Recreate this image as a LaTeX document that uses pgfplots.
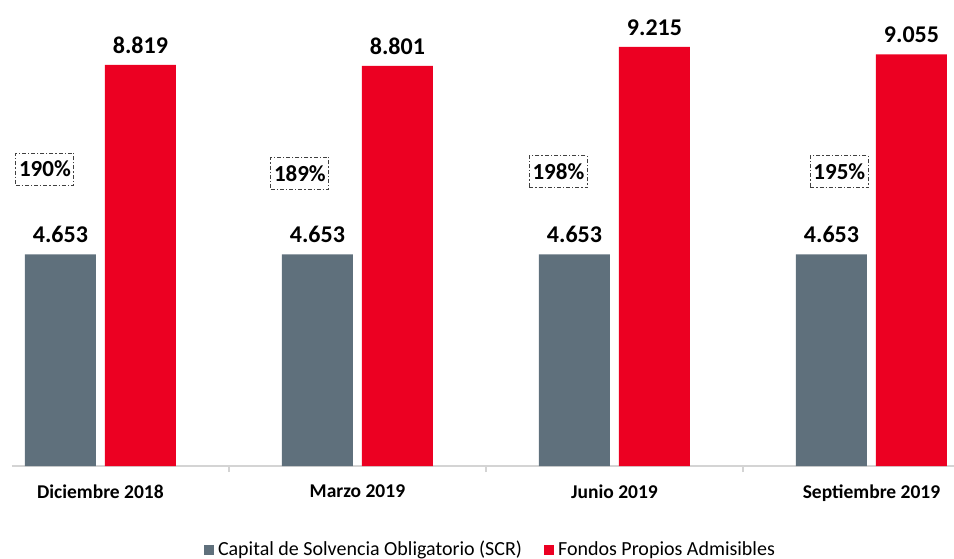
\documentclass[border=0pt]{standalone}
\usepackage{fontspec}
\setmainfont{Carlito}
\usepackage{pgfplots}
\pgfplotsset{compat=1.18}
\usepackage{pgfplotstable}
\definecolor{scrgrey}{HTML}{5F707C}
\definecolor{fpred}{HTML}{EC0022}
\definecolor{axgrey}{HTML}{D4D4D4}

\pgfplotstableread{
x y
0 4.653
1 4.653
2 4.653
3 4.653
}\scr
\pgfplotstableread{
x y
0 8.819
1 8.801
2 9.215
3 9.055
}\fpa
\pgfplotstableread{
x y label
-0.216 6.53 190
0.776 6.44 189
1.782 6.47 198
2.875 6.47 195
}\ratio

\begin{document}
\begin{tikzpicture}
\useasboundingbox (-6pt,-46pt) rectangle (471pt,233pt);
\clip (-6pt,-46pt) rectangle (471pt,233pt);
\begin{axis}[
  at={(0,0)}, anchor=south west,
  scale only axis, width=471pt, height=227.35pt,
  xmin=-0.344, xmax=3.321, ymin=0, ymax=10,
  axis x line*=bottom, axis y line=none,
  x axis line style={draw=axgrey, line width=0.8pt},
  xtick={0,1,2,3},
  xticklabels={Diciembre 2018, Marzo 2019, Junio 2019, Septiembre 2019},
  major tick length=0pt,
  extra x ticks={0.5,1.5,2.5},
  extra x tick labels={},
  extra x tick style={major tick length=3pt, tick align=outside, tick style={draw=axgrey, line width=0.8pt}},
  xticklabel style={font=\fontsize{9.75}{11}\selectfont\bfseries, yshift=-6pt},
  ytick=\empty,
  /pgf/number format/.cd, fixed, fixed zerofill, precision=3, assume math mode=true,
  /pgfplots/.cd,
  legend style={at={(0.509,-0.184)}, anchor=center, draw=none, fill=none,
    font=\fontsize{10}{11}\selectfont, legend columns=2,
    /tikz/every even column/.append style={column sep=9pt},
    inner sep=0pt},
  legend cell align=left,
]
\addplot[ybar, bar width=35.5pt, bar shift=-20pt, fill=scrgrey, draw=none,
  nodes near coords,
  every node near coord/.style={anchor=south, inner sep=0pt, yshift=5.5pt, xshift=-20pt, text=black, font=\fontsize{12}{14}\selectfont\bfseries},
  legend image code/.code={\fill[scrgrey] (0pt,-2.5pt) rectangle (5pt,2.5pt);}]
  table[x=x,y=y]{\scr};
\addlegendentry{Capital de Solvencia Obligatorio (SCR)}
\addplot[ybar, bar width=35.5pt, bar shift=20pt, fill=fpred, draw=none,
  nodes near coords,
  every node near coord/.style={anchor=south, inner sep=0pt, yshift=5.5pt, xshift=20pt, text=black, font=\fontsize{12}{14}\selectfont\bfseries},
  legend image code/.code={\fill[fpred] (0pt,-2.5pt) rectangle (5pt,2.5pt);}]
  table[x=x,y=y]{\fpa};
\addlegendentry{Fondos Propios Admisibles}
\addplot[draw=none, mark=none, forget plot,
  nodes near coords={\pgfplotspointmeta\%},
  point meta=explicit symbolic,
  every node near coord/.style={draw=black!75, line width=0.5pt,
    dash pattern=on 2pt off 1pt on 0.6pt off 1pt,
    anchor=center, text=black, font=\fontsize{11.5}{13}\selectfont\bfseries,
    minimum height=16pt, minimum width=29pt, inner xsep=1pt, inner ysep=0pt}]
  table[x=x,y=y,meta=label]{\ratio};
\end{axis}
\end{tikzpicture}
\end{document}
